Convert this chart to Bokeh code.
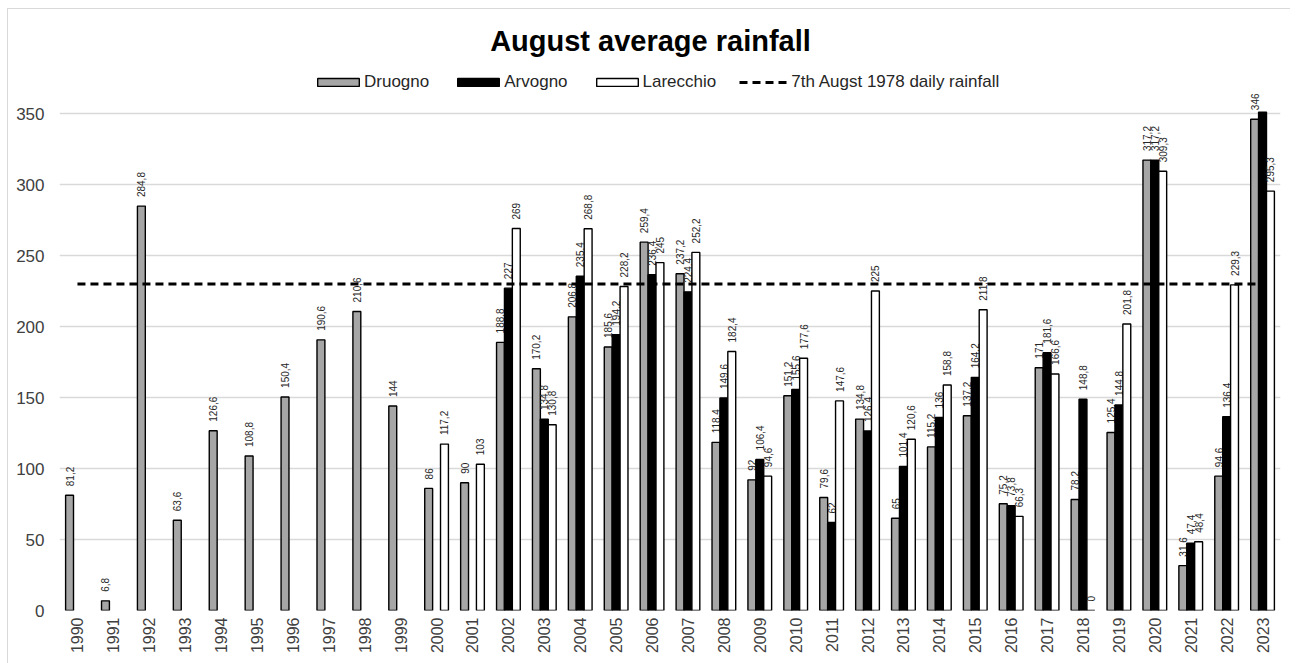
import numpy as np
from math import pi
from bokeh.plotting import figure
from bokeh.models import (ColumnDataSource, FactorRange, Range1d, Legend, LegendItem, Label,
                          InlineStyleSheet)
from bokeh.transform import dodge
from bokeh.core.properties import value
from bokeh.embed import file_html
from bokeh.resources import INLINE

N = np.nan

years = ["1990", "1991", "1992", "1993", "1994", "1995", "1996", "1997", "1998", "1999",
         "2000", "2001", "2002", "2003", "2004", "2005", "2006", "2007", "2008", "2009",
         "2010", "2011", "2012", "2013", "2014", "2015", "2016", "2017", "2018", "2019",
         "2020", "2021", "2022", "2023"]

druogno = [81.2, 6.8, 284.8, 63.6, 126.6, 108.8, 150.4, 190.6, 210.6, 144,
           86, 90, 188.8, 170.2, 206.8, 185.6, 259.4, 237.2, 118.4, 92,
           151.2, 79.6, 134.8, 65, 115.2, 137.2, 75.2, 171, 78.2, 125.4,
           317.2, 31.6, 94.6, 346]

arvogno = [N, N, N, N, N, N, N, N, N, N,
           N, N, 227, 134.8, 235.4, 194.2, 236.4, 224.4, 149.6, 106.4,
           155.6, 62, 126.4, 101.4, 136, 164.2, 73.8, 181.6, 148.8, 144.8,
           317.2, 47.4, 136.4, 351]

larecchio = [N, N, N, N, N, N, N, N, N, N,
             117.2, 103, 269, 130.8, 268.8, 228.2, 245, 252.2, 182.4, 94.6,
             177.6, 147.6, 225, 120.6, 158.8, 211.8, 66.3, 166.6, 0, 201.8,
             309.3, 48.4, 229.3, 295.3]

reference_1978 = 230  # 7th August 1978 daily rainfall
reference_line = [reference_1978 for _ in years]

y_ticks = [0, 50, 100, 150, 200, 250, 300, 350]
y_max = 350

# layout constants (pixels)
W, H = 1290, 660
B_LEFT, B_RIGHT, B_BOTTOM = 59, 10, 50
PX_PER_350 = 497          # height of the 0..350 span in pixels
frame_h = H - B_BOTTOM
y_top = y_max * frame_h / PX_PER_350   # headroom for title and legend above 350

FONT = "Liberation Sans"
GRID = "#d9d9d9"

p = figure(x_range=FactorRange(*years, range_padding=0), y_range=Range1d(0, y_top),
           width=W, height=H, output_backend="svg", toolbar_location=None,
           min_border_left=B_LEFT, min_border_right=B_RIGHT, min_border_top=0,
           min_border_bottom=B_BOTTOM)
p.outline_line_color = None
p.background_fill_color = "white"
p.border_fill_color = "white"
# light chart-area border (left and top), drawn above the canvas
p.stylesheets = [InlineStyleSheet(css=(
    ":host::after { content: ''; position: absolute; left: 7px; top: 8px; right: 0px; "
    "bottom: -10px; border-left: 1.5px solid #d9d9d9; border-top: 1.5px solid #d9d9d9; "
    "pointer-events: none; z-index: 10; }"))]

p.xgrid.grid_line_color = None
p.ygrid.grid_line_color = GRID
p.ygrid.grid_line_width = 1.3
p.yaxis.ticker = y_ticks

for ax in (p.xaxis, p.yaxis):
    ax.axis_line_color = None
    ax.major_tick_line_color = None
    ax.minor_tick_line_color = None
    ax.major_tick_out = 0
    ax.major_tick_in = 0
    ax.minor_tick_out = 0
    ax.major_label_text_font = FONT
    ax.major_label_text_color = "#404040"
p.yaxis.major_label_text_font_size = "17px"
p.xaxis.major_label_text_font_size = "16px"
p.yaxis.major_label_standoff = 15
p.xaxis.major_label_standoff = 7
p.xaxis.major_label_orientation = pi / 2

series = [("Druogno", druogno, "#a6a6a6", -0.22),
          ("Arvogno", arvogno, "#000000", 0.0),
          ("Larecchio", larecchio, "#ffffff", 0.22)]

items = []
for name, vals, color, off in series:
    src = ColumnDataSource(dict(year=years, v=vals))
    r = p.vbar(x=dodge("year", off, range=p.x_range), top="v", bottom=0, width=0.22,
               source=src, fill_color=color, line_color="black", line_width=1.4)
    items.append(LegendItem(label=name, renderers=[r]))
    lx = [y for y, v in zip(years, vals) if not np.isnan(v) and v <= y_max]
    lv = [v for v in vals if not np.isnan(v) and v <= y_max]
    lt = [f"{v:g}".replace(".", ",") for v in lv]
    lsrc = ColumnDataSource(dict(year=lx, v=lv, t=lt))
    p.text(x=dodge("year", off, range=p.x_range), y="v", text="t", source=lsrc,
           angle=pi / 2, text_align="left", text_baseline="middle", y_offset=-9,
           text_font=value(FONT), text_font_size="10px", text_color="#262626")

ln = p.line(x=years, y=reference_line, line_color="black", line_width=3, line_dash="8 5")
items.append(LegendItem(label="7th Augst 1978 daily rainfall", renderers=[ln]))

legend = Legend(items=items, orientation="horizontal", location=(253, frame_h - 92),
                padding=0, margin=0, spacing=23, label_standoff=0,
                glyph_width=52, glyph_height=10, border_line_color=None,
                background_fill_alpha=0, label_text_font=FONT,
                label_text_font_size="17px", label_text_color="#262626")
p.add_layout(legend)

title = Label(x=591, y=frame_h - 40, x_units="screen", y_units="screen",
              text="August average rainfall",
              text_align="center", text_baseline="middle", text_font=FONT,
              text_font_size="29px", text_font_style="bold", text_color="black")
p.add_layout(title)

open("out.html", "w").write(file_html(p, INLINE))
